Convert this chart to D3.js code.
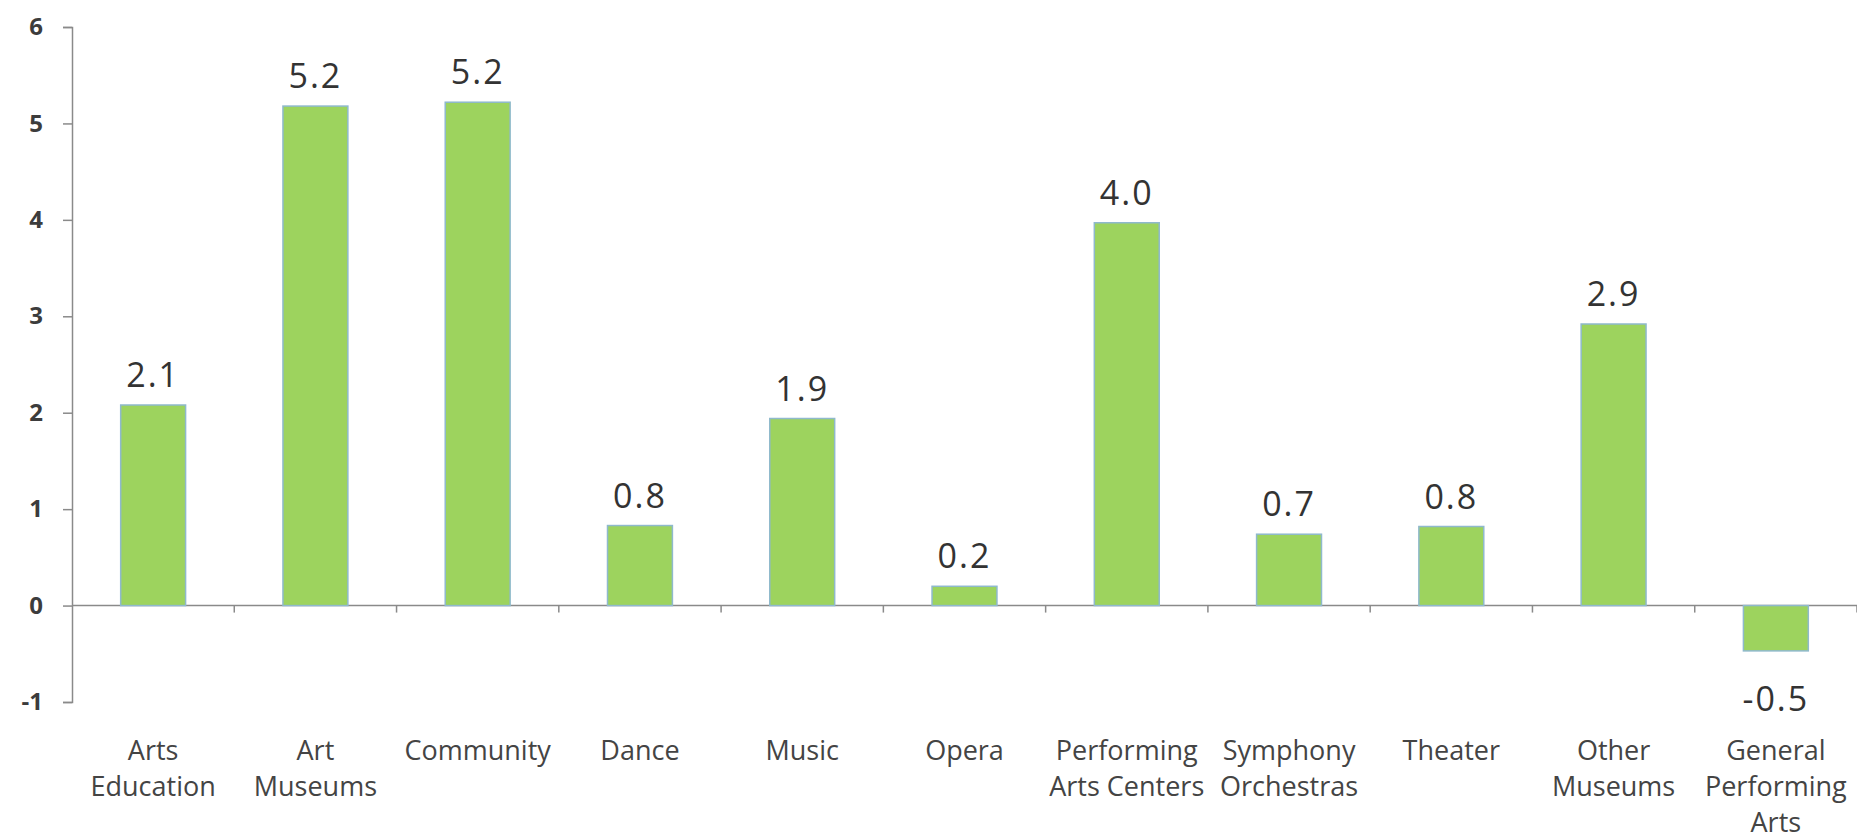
<!DOCTYPE html>
<html>
<head>
<meta charset="utf-8">
<script src="https://cdn.jsdelivr.net/npm/d3@7"></script>
<style>
  body { margin: 0; background: #fff; }
  text { font-family: "Open Sans", "Liberation Sans", sans-serif; }
</style>
</head>
<body>
<svg id="chart" width="1857" height="839"></svg>
<script>
// categories, split into the lines they are printed on
const categories = ["Arts Education", "Art Museums", "Community", "Dance", "Music", "Opera",
    "Performing Arts Centers", "Symphony Orchestras", "Theater", "Other Museums", "General Performing Arts"];
const categoryLines = [["Arts", "Education"], ["Art", "Museums"], ["Community"], ["Dance"], ["Music"], ["Opera"],
    ["Performing", "Arts Centers"], ["Symphony", "Orchestras"], ["Theater"], ["Other", "Museums"],
    ["General", "Performing", "Arts"]];
// values (labels show one decimal)
const values = [2.08, 5.18, 5.22, 0.83, 1.94, 0.2, 3.97, 0.74, 0.82, 2.92, -0.47];
const yTicks = [-1, 0, 1, 2, 3, 4, 5, 6];

const svg = d3.select("#chart");
const plotLeft = 72, plotRight = 1857, plotTop = 27, plotBottom = 702;

const x = d3.scaleBand()
    .domain(categories)
    .range([plotLeft, plotRight])
    .paddingInner(0.6)
    .paddingOuter(0.3);

const y = d3.scaleLinear()
    .domain([-1, 6])
    .range([plotBottom, plotTop]);

// plain hyphen for negatives, like the original
const fmt = d => d3.format(".1f")(d).replace("\u2212", "-");

// y axis
const yAxis = svg.append("g")
    .attr("transform", "translate(" + plotLeft + ",0)")
    .call(d3.axisLeft(y).tickValues(yTicks).tickFormat(d => String(d)).tickSize(9).tickPadding(20));
yAxis.select(".domain").attr("stroke", "#8a8a8a").attr("stroke-width", 1.5);
yAxis.selectAll(".tick line").attr("stroke", "#8a8a8a").attr("stroke-width", 1.5);
yAxis.selectAll(".tick text")
    .style("font-size", "24px")
    .style("font-weight", "bold")
    .attr("fill", "#3c3c3c");

// x axis along zero, ticks between categories
const step = x.step();
const boundaries = d3.range(categories.length + 1).map(i => plotLeft + i * step);
svg.append("line")
    .attr("x1", plotLeft).attr("x2", plotRight)
    .attr("y1", y(0)).attr("y2", y(0))
    .attr("stroke", "#8a8a8a").attr("stroke-width", 1.5);
svg.selectAll(".xtick").data(boundaries.slice(1)).enter().append("line")
    .attr("class", "xtick")
    .attr("x1", d => d).attr("x2", d => d)
    .attr("y1", y(0)).attr("y2", y(0) + 7)
    .attr("stroke", "#8a8a8a").attr("stroke-width", 1.5);

// bars
svg.selectAll(".bar").data(values).enter().append("rect")
    .attr("class", "bar")
    .attr("x", (d, i) => x(categories[i]))
    .attr("width", x.bandwidth())
    .attr("y", d => y(Math.max(d, 0)))
    .attr("height", d => Math.abs(y(d) - y(0)))
    .attr("fill", "#9dd35e")
    .attr("stroke", "#8fb9cc")
    .attr("stroke-width", 1.5);

// value labels
svg.selectAll(".val").data(values).enter().append("text")
    .attr("class", "val")
    .attr("x", (d, i) => x(categories[i]) + x.bandwidth() / 2)
    .attr("y", d => d >= 0 ? y(d) - 18 : y(d) + 60)
    .attr("text-anchor", "middle")
    .style("font-size", "34px")
    .style("letter-spacing", "2px")
    .attr("fill", "#333")
    .text(d => fmt(d));

// category labels
const catG = svg.selectAll(".cat").data(categoryLines).enter().append("text")
    .attr("class", "cat")
    .attr("text-anchor", "middle")
    .style("font-size", "27px")
    .attr("fill", "#444");
catG.selectAll("tspan").data((d, i) => d.map(s => ({ s: s, i: i }))).enter().append("tspan")
    .attr("x", d => x(categories[d.i]) + x.bandwidth() / 2)
    .attr("y", (d, j) => 760 + j * 36)
    .text(d => d.s);
</script>
</body>
</html>
